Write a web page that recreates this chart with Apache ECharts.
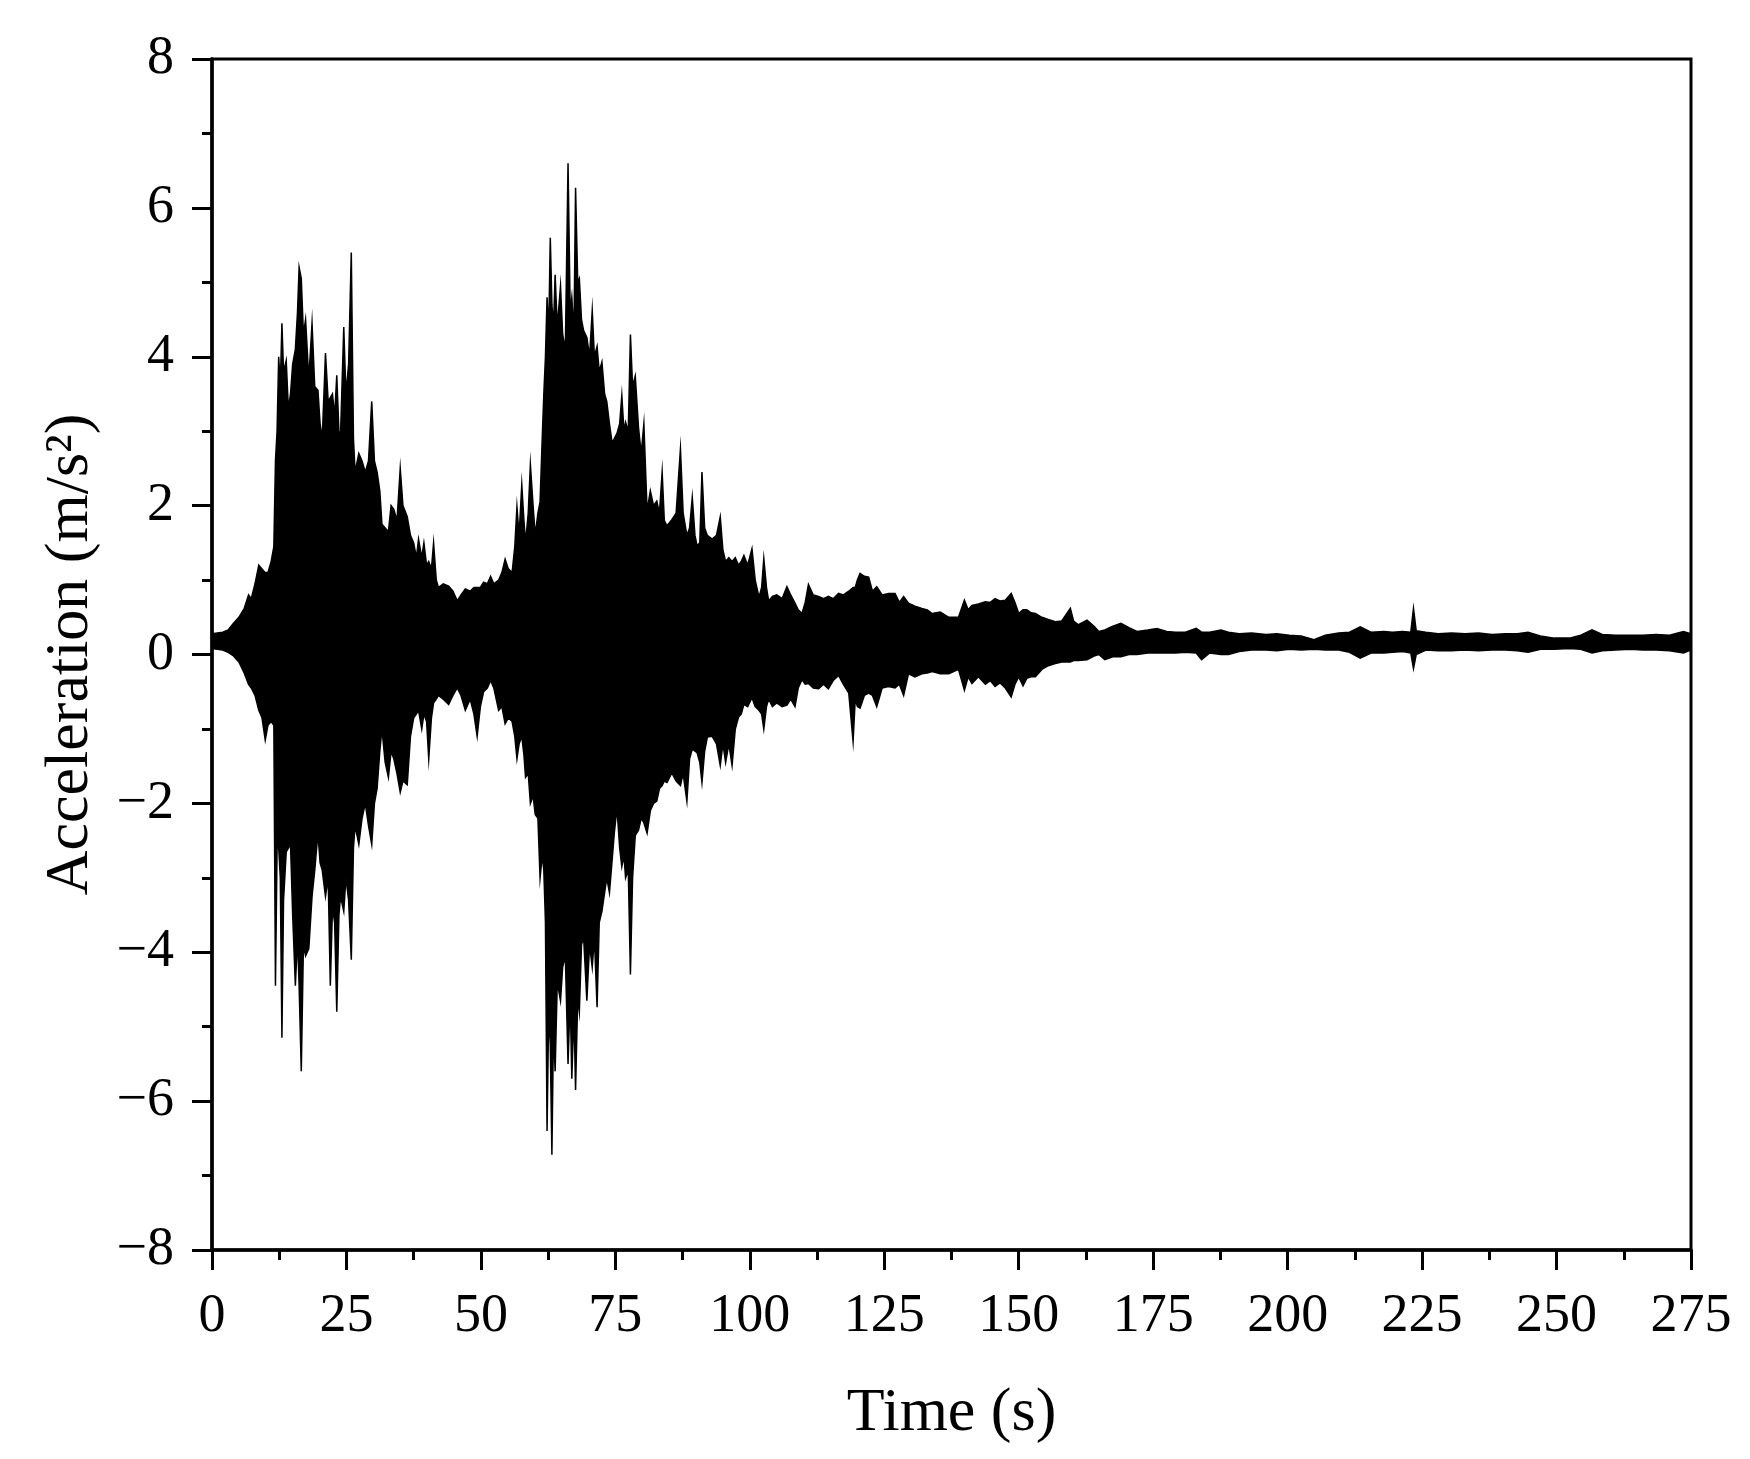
<!DOCTYPE html>
<html>
<head>
<meta charset="utf-8">
<script src="https://cdn.jsdelivr.net/npm/echarts@6/dist/echarts.min.js"></script>
<style>
html,body{margin:0;padding:0;background:#fff;}
#chart{width:1750px;height:1459px;}
</style>
</head>
<body>
<div id="chart"></div>
<script>
var times = [
0,2,3,4,5,6,6.8,7.3,8,8.7,
9.3,9.9,10.4,11,11.5,11.8,12.1,12.4,12.7,13.0,
13.3,13.8,14.2,14.6,15.0,15.5,15.9,16.2,16.6,17.0,
17.4,18.0,18.6,19.1,19.7,20.1,20.5,21.1,21.6,22.0,
22.4,22.8,23.2,23.6,23.9,24.5,24.9,25.4,25.9,26.3,
26.6,27.3,27.9,28.5,29.1,29.7,30.2,30.7,31.2,31.6,
32.2,32.8,33.3,33.8,34.4,35.0,35.5,36.3,36.9,37.5,
38.0,38.4,39.0,39.4,39.9,40.3,40.8,41.2,41.7,42.1,
43.0,44.0,44.8,45.6,46.3,47.1,48.0,48.7,49.3,49.9,
50.5,51.2,51.8,52.4,53.3,53.9,54.5,55.1,55.8,56.3,
56.7,57.1,57.6,58.0,58.3,58.8,59.2,59.7,60.1,60.6,
61.0,61.4,61.7,62.0,62.3,62.6,62.9,63.2,63.5,63.8,
64.2,64.8,65.2,65.7,66.2,66.6,66.9,67.3,67.6,68.0,
68.3,68.7,69.1,69.7,70.2,70.7,71.1,71.6,72.0,72.5,
73.0,73.4,73.9,74.4,74.8,75.3,75.8,76.2,76.6,76.9,
77.4,77.8,78.2,78.7,79.3,79.8,80.3,80.9,81.5,82.1,
82.7,83.2,83.7,84.1,84.6,85.5,86.3,87.1,87.6,88.3,
88.8,89.3,89.8,90.2,90.7,91.1,91.6,92.1,93.0,93.8,
94.5,95.0,95.5,96.1,96.7,97.3,97.9,98.4,98.9,99.6,
100.4,101.0,101.7,102.2,102.6,103.1,103.5,104.2,105.0,106.0,
106.9,107.6,108.4,109.0,109.7,110.3,110.9,111.8,112.8,113.7,
114.6,115.5,116.5,117.4,118.4,119.2,119.6,120.0,120.5,121.3,
122.1,122.8,123.6,124.6,125.8,127.0,127.8,128.6,129.5,130.7,
132.0,133.0,133.9,135.4,137.0,138.8,139.9,140.6,141.3,142.5,
143.8,144.7,145.6,146.5,147.5,148.6,149.3,150.0,150.8,151.5,
152.3,153.1,154.3,155.5,156.8,158.0,159.6,160.2,161.1,162.7,
164.0,164.9,166.0,167.5,169.0,170.5,172.0,174.0,175.7,177.5,
179.2,181.0,183.0,184.0,185.5,187.6,189.0,191.0,193.3,196.0,
198.0,200.3,202.5,204.9,207.0,209.5,211.5,213.5,215.5,217.9,
219.5,221.4,222.9,223.4,223.9,225.7,228.0,230.5,233.0,235.5,
238.0,240.5,242.7,244.7,247.0,249.6,252.4,254.5,256.6,258.5,
261.0,263.7,266.0,268.5,271.0,273.6,275
];
// Upper envelope of acceleration (m/s^2)
var upper = [
0.28,0.3,0.33,0.42,0.5,0.62,0.8,0.75,0.95,1.2,
1.15,1.1,1.1,1.25,1.45,2.6,3.0,4.0,3.6,4.45,
3.8,3.95,3.3,3.5,3.9,4.1,4.6,5.2,5.05,4.3,
4.5,3.7,4.45,3.6,3.55,3.1,2.9,4.05,3.4,3.45,
3.5,3.2,3.75,3.0,2.95,4.4,3.5,3.9,5.4,2.9,
2.45,2.7,2.6,2.45,2.6,3.4,2.6,2.45,2.2,1.75,
1.7,1.65,2.0,1.95,1.8,2.5,2.0,1.85,1.6,1.5,
1.3,1.55,1.3,1.5,1.2,1.25,1.15,1.5,1.0,0.9,
0.95,0.92,0.85,0.72,0.8,0.88,0.85,0.9,0.9,0.9,
0.97,0.95,1.05,0.95,1.0,1.1,1.28,1.15,1.1,1.45,
1.98,1.6,2.28,1.8,1.5,1.9,2.55,2.0,1.6,1.9,
2.05,2.9,3.5,4.0,4.8,4.3,5.6,4.7,4.4,5.1,
4.4,4.95,4.3,4.1,6.6,4.6,4.8,4.3,6.27,5.0,
5.05,4.5,4.35,4.26,4.0,4.62,4.0,4.14,3.8,3.93,
3.5,3.4,3.1,2.84,2.9,2.97,3.1,3.48,3.0,3.12,
3.0,4.3,3.6,3.74,3.05,2.7,3.1,1.93,2.2,2.0,
2.06,1.9,2.45,1.8,1.73,1.81,1.9,2.76,1.9,1.6,
1.7,2.11,1.6,1.46,1.5,2.45,1.7,1.6,1.55,1.6,
1.85,1.4,1.25,1.3,1.25,1.3,1.2,1.25,1.33,1.2,
1.42,1.0,0.77,0.9,1.29,0.9,0.72,0.78,0.8,0.75,
0.91,0.8,0.69,0.6,0.55,0.7,0.94,0.8,0.78,0.75,
0.78,0.75,0.82,0.8,0.85,0.9,0.9,1.0,1.09,1.05,
1.04,0.85,0.91,0.8,0.82,0.82,0.7,0.78,0.69,0.65,
0.62,0.6,0.55,0.57,0.5,0.5,0.73,0.6,0.66,0.68,
0.71,0.7,0.75,0.72,0.73,0.82,0.7,0.55,0.6,0.6,
0.56,0.55,0.5,0.47,0.44,0.45,0.62,0.45,0.4,0.46,
0.38,0.31,0.33,0.38,0.42,0.36,0.31,0.33,0.35,0.31,
0.3,0.3,0.35,0.3,0.3,0.33,0.3,0.28,0.29,0.27,
0.28,0.26,0.25,0.2,0.26,0.29,0.3,0.37,0.3,0.31,
0.3,0.31,0.3,0.62,0.32,0.3,0.28,0.29,0.28,0.29,
0.27,0.28,0.28,0.3,0.25,0.22,0.22,0.26,0.33,0.27,
0.26,0.26,0.26,0.27,0.26,0.31,0.28
];
// Lower envelope of acceleration (m/s^2)
var lower = [
0.08,0.06,0.03,-0.02,-0.1,-0.25,-0.4,-0.45,-0.55,-0.75,
-0.85,-1.15,-0.95,-0.9,-0.95,-4.45,-2.6,-2.6,-3.0,-5.15,
-3.3,-2.65,-2.6,-2.55,-3.5,-4.45,-3.8,-4.45,-5.6,-3.9,
-4.05,-3.95,-3.25,-2.9,-2.4,-2.8,-2.9,-3.25,-3.0,-4.45,
-3.4,-3.6,-4.8,-3.5,-3.25,-3.45,-3.0,-3.3,-4.1,-2.6,
-2.3,-2.55,-2.2,-2.0,-2.3,-2.55,-2.0,-1.8,-1.3,-1.0,
-1.45,-1.65,-1.3,-1.4,-1.6,-1.85,-1.7,-1.75,-1.1,-0.85,
-0.8,-0.75,-1.0,-0.8,-0.9,-1.4,-0.85,-0.65,-0.6,-0.55,
-0.6,-0.67,-0.55,-0.45,-0.55,-0.75,-0.6,-0.8,-1.1,-0.7,
-0.5,-0.45,-0.35,-0.45,-0.75,-0.7,-0.93,-0.85,-0.9,-1.1,
-1.4,-1.2,-1.1,-1.35,-1.65,-1.6,-2.0,-1.9,-2.15,-2.2,
-3.0,-2.7,-2.9,-3.6,-6.4,-4.8,-5.25,-6.72,-5.0,-5.6,
-4.4,-4.65,-4.2,-4.05,-5.5,-4.6,-5.7,-4.8,-5.85,-4.6,
-4.8,-3.9,-3.8,-4.65,-3.9,-4.2,-3.8,-4.74,-3.6,-3.45,
-3.2,-3.0,-3.2,-2.76,-2.4,-2.06,-2.6,-2.85,-2.7,-3.0,
-2.9,-4.3,-3.0,-2.43,-2.36,-2.2,-2.26,-2.4,-2.1,-2.0,
-1.97,-1.8,-1.76,-1.7,-1.72,-1.59,-1.7,-1.76,-1.6,-1.97,
-1.4,-1.27,-1.3,-1.32,-1.45,-1.72,-1.3,-1.11,-1.1,-1.2,
-1.49,-1.2,-1.45,-1.2,-1.49,-1.0,-0.84,-0.8,-0.67,-0.7,
-0.58,-0.7,-0.75,-0.8,-1.0,-0.7,-0.6,-0.7,-0.65,-0.7,
-0.68,-0.6,-0.7,-0.45,-0.34,-0.4,-0.39,-0.45,-0.46,-0.4,
-0.46,-0.35,-0.28,-0.4,-0.52,-1.17,-0.6,-0.7,-0.72,-0.55,
-0.52,-0.55,-0.7,-0.45,-0.43,-0.45,-0.4,-0.55,-0.26,-0.3,
-0.26,-0.25,-0.23,-0.26,-0.26,-0.2,-0.48,-0.3,-0.39,-0.3,
-0.4,-0.35,-0.43,-0.38,-0.45,-0.57,-0.4,-0.3,-0.42,-0.32,
-0.3,-0.3,-0.2,-0.15,-0.12,-0.1,-0.1,-0.08,-0.08,-0.07,
-0.02,0.0,-0.07,-0.03,-0.03,0.0,0.0,0.02,0.02,0.02,
0.02,0.03,0.02,-0.07,0.02,0.0,0.0,0.04,0.06,0.06,
0.05,0.07,0.06,0.07,0.06,0.06,0.03,-0.05,0.02,0.02,
0.03,0.04,0.02,-0.19,0.0,0.06,0.05,0.05,0.06,0.05,
0.06,0.06,0.05,0.03,0.07,0.07,0.08,0.07,0.02,0.05,
0.06,0.07,0.06,0.06,0.05,0.02,0.06
];
var xTicks = {min: 0, max: 275, interval: 25};
var yTicks = {min: -8, max: 8, interval: 2};

var FONT = "'Liberation Serif', 'Times New Roman', serif";
var chart = echarts.init(document.getElementById('chart'), null, {renderer: 'canvas'});

var axisCommon = {
  axisLine: {show: true, onZero: false, lineStyle: {color: '#000', width: 3.5}},
  axisTick: {show: true, inside: false, length: 20, lineStyle: {color: '#000', width: 3}},
  minorTick: {show: true, splitNumber: 2, length: 10, lineStyle: {color: '#000', width: 3}},
  splitLine: {show: false},
  minorSplitLine: {show: false}
};

chart.setOption({
  backgroundColor: '#fff',
  animation: false,
  grid: {left: 212, right: 59, top: 59, bottom: 209, show: true, borderColor: '#000', borderWidth: 3, backgroundColor: 'transparent'},
  xAxis: Object.assign({
    type: 'value',
    min: xTicks.min, max: xTicks.max, interval: xTicks.interval,
    name: 'Time (s)',
    nameLocation: 'middle',
    nameGap: 133,
    nameTextStyle: {fontFamily: FONT, fontSize: 62, color: '#000'},
    axisLabel: {fontFamily: FONT, fontSize: 54, color: '#000', margin: 40}
  }, axisCommon),
  yAxis: Object.assign({
    type: 'value',
    min: yTicks.min, max: yTicks.max, interval: yTicks.interval,
    name: 'Acceleration (m/s²)',
    nameLocation: 'middle',
    nameGap: 110,
    nameRotate: 90,
    nameTextStyle: {fontFamily: FONT, fontSize: 62, color: '#000'},
    axisLabel: {fontFamily: FONT, fontSize: 54, color: '#000', margin: 38,
      formatter: function (v) { return String(v).replace('-', '\u2212'); }}
  }, axisCommon),
  series: [{
    type: 'custom',
    coordinateSystem: 'cartesian2d',
    silent: true,
    clip: true,
    data: times.map(function (t, i) { return [t, upper[i], lower[i]]; }),
    encode: {x: 0, y: [1, 2]},
    renderItem: function (params, api) {
      if (params.dataIndex !== 0) return null;
      var pts = [];
      for (var i = 0; i < times.length; i++) pts.push(api.coord([times[i], upper[i]]));
      for (var j = times.length - 1; j >= 0; j--) pts.push(api.coord([times[j], lower[j]]));
      return {type: 'polygon', shape: {points: pts}, style: {fill: '#000', stroke: '#000', lineWidth: 1.5, lineJoin: 'miter', miterLimit: 20}};
    }
  }]
});
</script>
</body>
</html>
